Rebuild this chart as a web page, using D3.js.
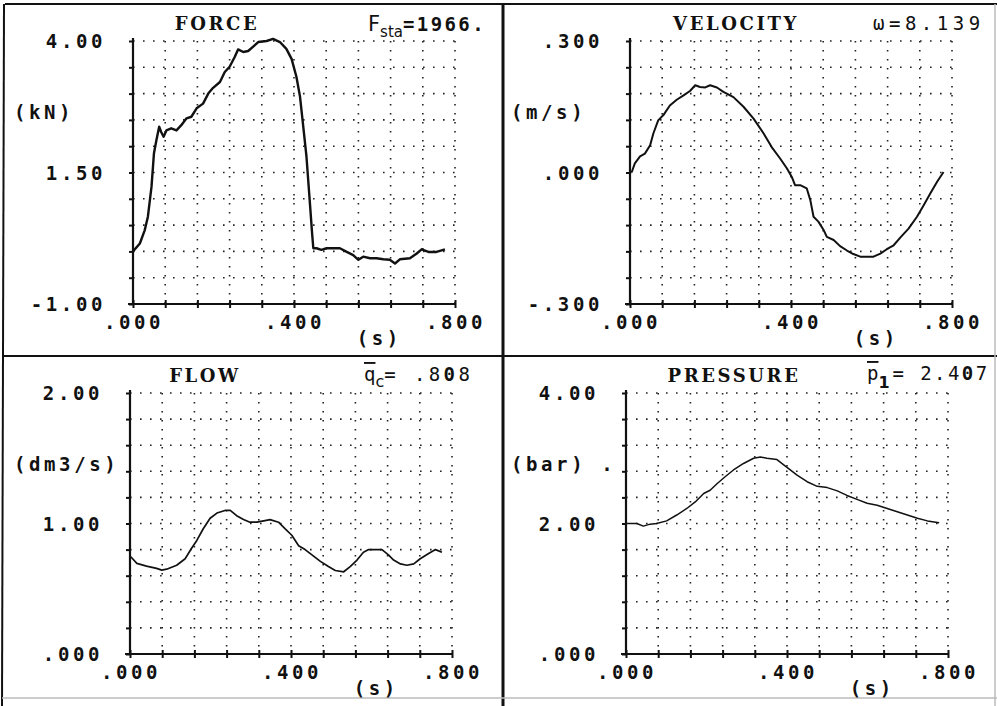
<!DOCTYPE html>
<html>
<head>
<meta charset="utf-8">
<script src="https://cdn.jsdelivr.net/npm/d3@7"></script>
<style>
  body { margin: 0; background: #fff; }
  text { fill: #111; }
  .lbl { font-family: "DejaVu Sans Mono", monospace; font-weight: bold; font-size: 19px; letter-spacing: 3.6px; }
  .ttl { font-family: "DejaVu Serif", serif; font-weight: bold; font-size: 18px; letter-spacing: 2.6px; }
  .ann { font-family: "DejaVu Sans Mono", monospace; font-size: 19px; letter-spacing: 3px; }
</style>
</head>
<body>
<script>
// time axis (s), shared by all four plots
var timeTicks = [".000", ".400", ".800"];

// FORCE (kN) : [t, value]
var forceData = [[0,0.0],[0.017,0.15],[0.029,0.40],[0.037,0.66],[0.046,1.23],[0.052,1.86],[0.058,2.11],[0.065,2.37],[0.070,2.27],[0.076,2.18],
  [0.083,2.30],[0.095,2.34],[0.108,2.30],[0.120,2.40],[0.133,2.53],[0.145,2.56],[0.158,2.72],[0.174,2.81],[0.187,3.0],[0.199,3.11],
  [0.216,3.22],[0.228,3.41],[0.240,3.51],[0.253,3.70],[0.261,3.84],[0.274,3.79],[0.286,3.81],[0.298,3.89],[0.311,3.98],[0.332,4.0],
  [0.348,4.04],[0.365,3.98],[0.381,3.85],[0.394,3.66],[0.406,3.32],[0.415,2.94],[0.423,2.37],[0.431,1.80],[0.439,0.97],[0.445,0.34],
  [0.448,0.06],[0.456,0.06],[0.468,0.03],[0.481,0.06],[0.497,0.06],[0.514,0.06],[0.531,-0.01],[0.547,-0.07],[0.560,-0.16],[0.572,-0.10],
  [0.589,-0.13],[0.605,-0.13],[0.622,-0.15],[0.638,-0.16],[0.651,-0.23],[0.663,-0.15],[0.688,-0.13],[0.705,-0.04],[0.717,0.04],[0.734,-0.01],
  [0.754,-0.01],[0.775,0.04]];
var forceTicks = ["4.00", "1.50", "-1.00"];

// VELOCITY (m/s)
var velocityData = [[0.004,0.0],[0.012,0.021],[0.025,0.037],[0.037,0.043],[0.050,0.062],[0.058,0.089],[0.070,0.119],[0.083,0.131],[0.099,0.153],[0.116,0.166],
  [0.133,0.176],[0.149,0.186],[0.162,0.199],[0.174,0.195],[0.187,0.194],[0.199,0.199],[0.216,0.194],[0.232,0.184],[0.257,0.172],[0.282,0.150],
  [0.307,0.123],[0.332,0.089],[0.352,0.058],[0.373,0.032],[0.390,0.009],[0.402,-0.010],[0.410,-0.029],[0.423,-0.029],[0.439,-0.036],[0.448,-0.063],
  [0.456,-0.101],[0.468,-0.112],[0.481,-0.131],[0.489,-0.147],[0.506,-0.154],[0.522,-0.168],[0.539,-0.178],[0.555,-0.186],[0.572,-0.192],[0.589,-0.192],
  [0.605,-0.192],[0.622,-0.185],[0.638,-0.175],[0.655,-0.166],[0.672,-0.148],[0.692,-0.128],[0.713,-0.101],[0.730,-0.074],[0.746,-0.048],[0.763,-0.021],
  [0.779,0.001]];
var velocityTicks = [".300", ".000", "-.300"];

// FLOW (dm3/s)
var flowData = [[0.002,0.745],[0.017,0.694],[0.041,0.673],[0.066,0.656],[0.079,0.643],[0.091,0.65],[0.116,0.68],[0.137,0.73],[0.153,0.81],[0.166,0.87],
  [0.182,0.96],[0.199,1.04],[0.216,1.08],[0.236,1.10],[0.249,1.10],[0.265,1.06],[0.282,1.03],[0.298,1.01],[0.315,1.01],[0.332,1.02],
  [0.348,1.03],[0.369,1.01],[0.385,0.96],[0.402,0.91],[0.419,0.83],[0.435,0.80],[0.452,0.76],[0.473,0.71],[0.493,0.67],[0.510,0.64],
  [0.531,0.63],[0.547,0.67],[0.564,0.72],[0.580,0.78],[0.593,0.80],[0.609,0.80],[0.626,0.80],[0.642,0.76],[0.655,0.72],[0.672,0.69],
  [0.688,0.68],[0.705,0.69],[0.721,0.73],[0.742,0.77],[0.759,0.80],[0.775,0.78]];
var flowTicks = ["2.00", "1.00", ".000"];

// PRESSURE (bar)
var pressureData = [[0.003,2.0],[0.027,2.0],[0.043,1.96],[0.060,1.99],[0.076,2.0],[0.101,2.04],[0.126,2.13],[0.151,2.23],[0.172,2.33],[0.193,2.46],
  [0.209,2.51],[0.226,2.61],[0.247,2.72],[0.267,2.82],[0.292,2.92],[0.317,3.0],[0.334,3.02],[0.350,3.0],[0.375,2.98],[0.400,2.86],
  [0.425,2.74],[0.450,2.64],[0.475,2.57],[0.500,2.55],[0.525,2.50],[0.549,2.43],[0.574,2.37],[0.599,2.31],[0.624,2.28],[0.649,2.23],
  [0.674,2.18],[0.699,2.13],[0.724,2.08],[0.749,2.04],[0.778,2.01]];
var pressureTicks = ["4.00", "2.00", ".000"];

var width = 997, height = 706;

var svg = d3.select("body").append("svg")
  .attr("width", width)
  .attr("height", height);

// frame and dividers
svg.append("line").attr("x1", 5).attr("y1", 4).attr("x2", 997).attr("y2", 4).attr("stroke", "#111").attr("stroke-width", 2);
svg.append("line").attr("x1", 4).attr("y1", 4).attr("x2", 2).attr("y2", 706).attr("stroke", "#111").attr("stroke-width", 2);
svg.append("line").attr("x1", 503).attr("y1", 4).attr("x2", 503).attr("y2", 706).attr("stroke", "#111").attr("stroke-width", 3);
svg.append("line").attr("x1", 2).attr("y1", 356).attr("x2", 997).attr("y2", 356).attr("stroke", "#111").attr("stroke-width", 2);
svg.append("line").attr("x1", 2).attr("y1", 698).attr("x2", 997).attr("y2", 698).attr("stroke", "#bbb").attr("stroke-width", 1.5);
svg.append("line").attr("x1", 995).attr("y1", 4).attr("x2", 995).attr("y2", 706).attr("stroke", "#bbb").attr("stroke-width", 1.5);

var panels = [
  { title: "FORCE", unit: "(kN)", data: forceData, ticks: forceTicks, domain: [-1, 4],
    left: 133, top: 41, w: 322, h: 263, titleX: 217, lw: 2.4 },
  { title: "VELOCITY", unit: "(m/s)", data: velocityData, ticks: velocityTicks, domain: [-0.3, 0.3],
    left: 630, top: 41, w: 322, h: 263, titleX: 736, lw: 2 },
  { title: "FLOW", unit: "(dm3/s)", data: flowData, ticks: flowTicks, domain: [0, 2],
    left: 130, top: 393, w: 322, h: 261, titleX: 205, lw: 1.7 },
  { title: "PRESSURE", unit: "(bar) .", data: pressureData, ticks: pressureTicks, domain: [0, 4],
    left: 626, top: 393, w: 322, h: 261, titleX: 734, lw: 1.5 }
];

panels.forEach(function(p) {
  var g = svg.append("g").attr("transform", `translate(${p.left}, ${p.top})`);

  var x = d3.scaleLinear().domain([0, 0.8]).range([0, p.w]);
  var y = d3.scaleLinear().domain(p.domain).range([p.h, 0]);

  var xDiv = d3.range(11).map(function(i) { return i * 0.08; });
  var yDiv = d3.range(11).map(function(i) { return p.domain[0] + i * (p.domain[1] - p.domain[0]) / 10; });

  // dotted grid
  g.selectAll(".vg").data(xDiv.slice(1)).enter().append("line")
    .attr("x1", d => x(d)).attr("x2", d => x(d))
    .attr("y1", 0).attr("y2", p.h)
    .attr("stroke", "#222").attr("stroke-width", 1.6)
    .attr("stroke-dasharray", "1.6,7.4");
  g.selectAll(".hg").data(yDiv.slice(1)).enter().append("line")
    .attr("x1", 0).attr("x2", p.w)
    .attr("y1", d => y(d)).attr("y2", d => y(d))
    .attr("stroke", "#222").attr("stroke-width", 1.6)
    .attr("stroke-dasharray", "1.6,8.4");

  // axes
  var yAxis = g.append("g").call(d3.axisLeft(y).tickValues(yDiv).tickSize(4).tickSizeOuter(0).tickFormat(""));
  var xAxis = g.append("g").attr("transform", `translate(0, ${p.h})`)
    .call(d3.axisBottom(x).tickValues(xDiv).tickSize(4).tickSizeOuter(0).tickFormat(""));
  xAxis.selectAll(".tick line").attr("y1", -4).attr("y2", 4);
  [yAxis, xAxis].forEach(function(a) {
    a.select(".domain").attr("stroke", "#111").attr("stroke-width", 2.2);
    a.selectAll(".tick line").attr("stroke", "#111").attr("stroke-width", 2);
  });
  xAxis.select(".domain").attr("d", `M-5,0H${p.w}`);
  yAxis.select(".domain").attr("d", `M0,-3V${p.h}`);

  // y tick labels: top, middle, bottom
  [p.domain[1], (p.domain[0] + p.domain[1]) / 2, p.domain[0]].forEach(function(v, i) {
    g.append("text").attr("class", "lbl")
      .attr("x", -27).attr("y", y(v) + 7)
      .attr("text-anchor", "end")
      .text(p.ticks[i]);
  });

  // x tick labels
  [0, 0.4, 0.8].forEach(function(v, i) {
    g.append("text").attr("class", "lbl")
      .attr("x", x(v) + 1).attr("y", p.h + 25)
      .attr("text-anchor", "middle")
      .text(timeTicks[i]);
  });
  g.append("text").attr("class", "lbl")
    .attr("x", p.w * 0.765).attr("y", p.h + 41)
    .attr("text-anchor", "middle")
    .text("(s)");

  // unit
  g.append("text").attr("class", "lbl")
    .attr("x", 14 - p.left + (p.left > 500 ? 497 : 0)).attr("y", p.h * 0.275 + 6)
    .text(p.unit);

  // title
  svg.append("text").attr("class", "ttl")
    .attr("x", p.titleX).attr("y", p.top - 11)
    .attr("text-anchor", "middle")
    .text(p.title);

  // curve
  var line = d3.line().x(d => x(d[0])).y(d => y(d[1]));
  g.append("path").datum(p.data)
    .attr("d", line)
    .attr("fill", "none")
    .attr("stroke", "#111")
    .attr("stroke-width", p.lw)
    .attr("stroke-linejoin", "round");
});

// annotations in the title rows (subscripts follow their letter inline)
var fsta = svg.append("text").attr("class", "ann").attr("x", 368).attr("y", 31).style("letter-spacing", "0px");
fsta.append("tspan").style("font-family", "DejaVu Sans, sans-serif").style("font-size", "21px").text("F");
fsta.append("tspan").attr("dy", 6).style("font-family", "DejaVu Sans, sans-serif").style("font-size", "15px").text("sta");
fsta.append("tspan").attr("dy", -6).style("font-weight", "bold").style("letter-spacing", "2.4px").text("=1966.");

svg.append("text").attr("class", "ann").attr("x", 873).attr("y", 30)
  .style("letter-spacing", "4.5px")
  .text("\u03c9=8.139");

var qc = svg.append("text").attr("class", "ann").attr("x", 364).attr("y", 381).style("letter-spacing", "0px");
qc.append("tspan").style("text-decoration", "overline").text("q");
qc.append("tspan").attr("dy", 6).style("font-family", "DejaVu Sans, sans-serif").style("font-size", "16px").text("c");
qc.append("tspan").attr("dy", -6).style("letter-spacing", "3.4px").text("= .8");
qc.append("tspan").style("font-weight", "bold").style("letter-spacing", "3.4px").text("0");
qc.append("tspan").text("8");

var p1 = svg.append("text").attr("class", "ann").attr("x", 867).attr("y", 380).style("letter-spacing", "0px");
p1.append("tspan").style("text-decoration", "overline").text("p");
p1.append("tspan").attr("dy", 8).style("font-family", "DejaVu Sans, sans-serif").style("font-size", "16px").style("font-weight", "bold").text("1");
p1.append("tspan").attr("dy", -8).attr("dx", 3).style("letter-spacing", "2.4px").text("= 2.4");
p1.append("tspan").style("font-weight", "bold").style("letter-spacing", "2.4px").text("0");
p1.append("tspan").text("7");
</script>
</body>
</html>
